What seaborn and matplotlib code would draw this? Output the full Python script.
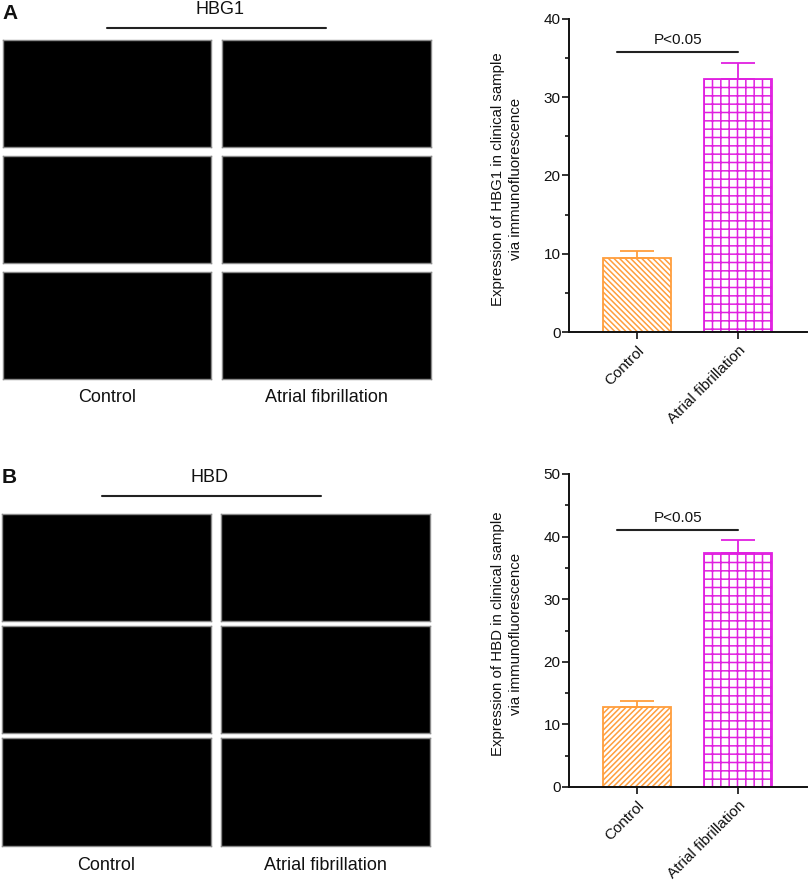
import numpy as np
import pandas as pd
import seaborn as sns
import matplotlib.pyplot as plt
from matplotlib.lines import Line2D
from matplotlib.ticker import MultipleLocator

# Data
groups = ['Control', 'Atrial fibrillation']
hbg1_mean = [9.5, 32.3]
hbg1_sem = [0.8, 2.1]
hbd_mean = [12.8, 37.4]
hbd_sem = [1.0, 2.1]
bar_colors = ['#FF9E3D', '#E020E0']

sns.set_theme(style='white')
plt.rcParams['font.family'] = ['Liberation Sans', 'DejaVu Sans']
plt.rcParams['hatch.linewidth'] = 1.1
for k in ['text.color', 'axes.labelcolor', 'xtick.color', 'ytick.color']:
    plt.rcParams[k] = '#111111'

W, H = 809, 884
fig = plt.figure(figsize=(W / 100, H / 100), dpi=100)


def fx(px):
    return px / W


def fy(py):
    return 1 - py / H


def add_box(x0, y0, x1, y1):
    # black micrograph placeholder panels
    a = fig.add_axes([fx(x0), fy(y1), fx(x1 - x0), (y1 - y0) / H])
    a.set_facecolor('black')
    a.set_xticks([])
    a.set_yticks([])
    for s in a.spines.values():
        s.set_color('#8a8a8a')
        s.set_linewidth(1)


def image_block(letter, title, top, cols, rows, line, label_y):
    fig.text(fx(2), fy(top), letter, fontsize=15, fontweight='bold', va='top', ha='left')
    fig.text(fx(line[2]), fy(line[3]), title, fontsize=13, ha='center', va='center')
    fig.add_artist(Line2D([fx(line[0]), fx(line[1])], [fy(line[4]), fy(line[4])],
                          color='#222222', lw=1.5))
    for (r0, r1) in rows:
        for (c0, c1) in cols:
            add_box(c0, r0, c1, r1)
    fig.text(fx((cols[0][0] + cols[0][1]) / 2), fy(label_y), groups[0], fontsize=13,
             ha='center', va='center')
    fig.text(fx((cols[1][0] + cols[1][1]) / 2), fy(label_y), groups[1], fontsize=13,
             ha='center', va='center')


image_block('A', 'HBG1', 4,
            [(3, 211), (222, 431)],
            [(40, 147), (156, 263), (272, 379)],
            (107, 326, 220, 10, 28), 398)
image_block('B', 'HBD', 468,
            [(2, 211), (221, 430)],
            [(514, 621), (626, 733), (738, 846)],
            (102, 321, 210, 477, 496), 866)


def bar_panel(rect, means, sems, gene, ymax, hatch0, pline, ptext):
    ax = fig.add_axes(rect)
    df = pd.DataFrame({'group': groups, 'value': means})
    sns.barplot(data=df, x='group', y='value', hue='group', palette=bar_colors,
                order=groups, width=0.67, errorbar=None, legend=False, ax=ax)
    for p, c, h in zip(ax.patches, bar_colors, [hatch0, '++']):
        p.set_facecolor('white')
        p.set_edgecolor(c)
        p.set_hatch(h)
        p.set_linewidth(1.3)
    for i, (m, s, c) in enumerate(zip(means, sems, bar_colors)):
        ax.errorbar([i], [m], yerr=[[0], [s]], fmt='none', ecolor=c, elinewidth=1.3,
                    capsize=11.9, capthick=1.3, zorder=5)
    ax.plot([-0.2, 1.0], [pline, pline], color='#222222', lw=1.5)
    ax.text(0.4, ptext, 'P<0.05', ha='center', va='center', fontsize=11)
    ax.set_xlim(-0.67, 1.675)
    ax.set_ylim(0, ymax)
    ax.yaxis.set_major_locator(MultipleLocator(10))
    ax.yaxis.set_minor_locator(MultipleLocator(5))
    sns.despine(ax=ax)
    for s in ['left', 'bottom']:
        ax.spines[s].set_color('#111111')
        ax.spines[s].set_linewidth(1.4)
    ax.tick_params(axis='y', which='major', direction='out', length=5, width=1.2,
                   labelsize=11, left=True, pad=1)
    ax.tick_params(axis='y', which='minor', direction='out', length=3, width=1.2,
                   left=True)
    ax.tick_params(axis='x', direction='out', length=5, width=1.2, bottom=True,
                   labelsize=11, pad=3)
    ax.set_xticks([0, 1])
    ax.set_xticklabels(groups, rotation=45, ha='right', rotation_mode='anchor')
    ax.set_xlabel('')
    ax.set_ylabel('Expression of %s in clinical sample\nvia immunofluorescence' % gene,
                  fontsize=10.8, linespacing=1.3)
    ax.yaxis.set_label_coords(-0.195, 0.49)
    ax.set_facecolor('white')
    return ax


bar_panel([fx(569), fy(332), fx(807 - 569), (332 - 19) / H],
          hbg1_mean, hbg1_sem, 'HBG1', 40, '\\' * 6, 35.8, 37.3)
bar_panel([fx(569), fy(787), fx(807 - 569), (787 - 474) / H],
          hbd_mean, hbd_sem, 'HBD', 50, '/' * 6, 41.0, 43.0)

fig.savefig('out.png', dpi=100)
